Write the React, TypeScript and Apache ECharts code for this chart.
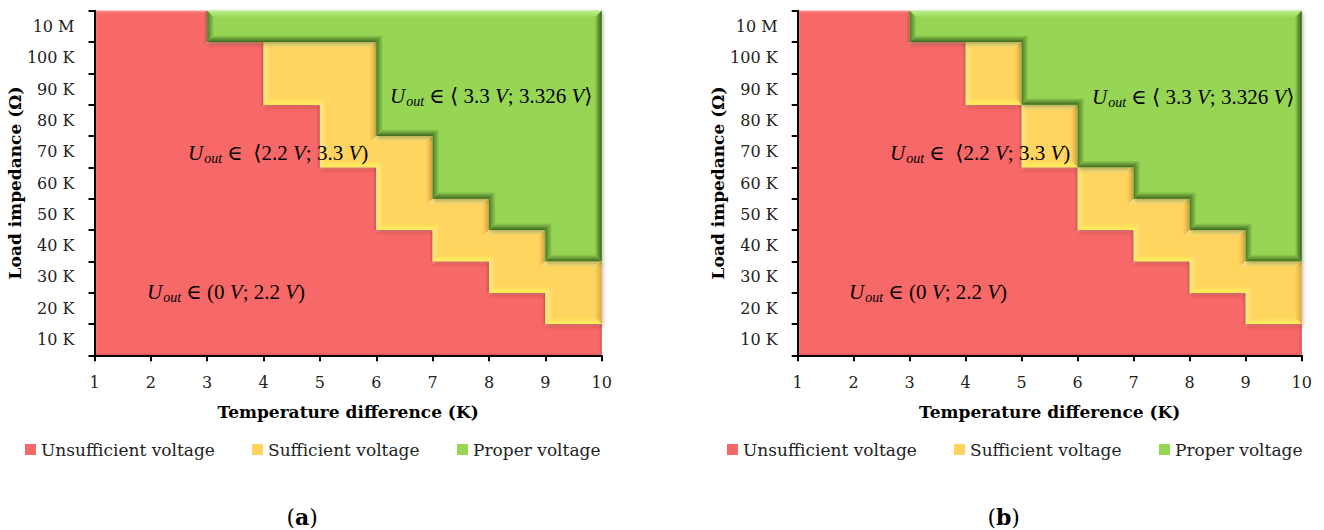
import React, { useEffect, useRef } from "react";
import * as echarts from "echarts";

// ---------- data ----------
const temperatureTicks = [1, 2, 3, 4, 5, 6, 7, 8, 9, 10];
const impedanceLabels = ["10 K", "20 K", "30 K", "40 K", "50 K", "60 K", "70 K", "80 K", "90 K", "100 K", "10 M"];
const seriesNames = ["Unsufficient voltage", "Sufficient voltage", "Proper voltage"];
// number of impedance rows occupied in each temperature interval [1-2] ... [9-10]
const unsufficientA = [11, 11, 10, 8, 6, 4, 3, 2, 1];
const sufficientA = [0, 0, 0, 2, 4, 3, 2, 2, 2];
const properA = [0, 0, 1, 1, 1, 4, 6, 7, 8];
const unsufficientB = [11, 11, 10, 8, 6, 4, 3, 2, 1];
const sufficientB = [0, 0, 0, 2, 2, 2, 2, 2, 2];
const properB = [0, 0, 1, 1, 3, 5, 6, 7, 8];
const panelLabels = ["a", "b"];

// ---------- styles ----------
const COLORS = ["#F76868", "#FFD45E", "#97D655"];
const BEVEL = [
  { top: "#FB9494", left: "#F97C7C", bottom: "#E25A5A", right: "#DC5656" },
  { top: "#FFE88E", left: "#FFEA88", bottom: "#FFF05C", right: "#D8AC42" },
  { top: "#BCEF8C", left: "#4C7B28", bottom: "#3E681E", right: "#385E1B" },
];
const BEVEL_W = [3, 7, 7];
const SHADOW = [null, "rgba(120,40,20,0.4)", "rgba(30,60,10,0.4)"];
const SERIF = "'DejaVu Serif', 'Liberation Serif', serif";
const MATH = "'Liberation Serif', 'DejaVu Serif', serif";

type Cell = [number, number, number, number];

function stackCells(layers: number[][], layer: number): Cell[] {
  const cells: Cell[] = [];
  for (let i = 0; i < layers[layer].length; i++) {
    let b = 0;
    for (let k = 0; k < layer; k++) b += layers[k][i];
    const t = b + layers[layer][i];
    cells.push([temperatureTicks[i], temperatureTicks[i + 1], b, t]);
  }
  return cells;
}

// split non-empty cells into groups whose neighbouring columns overlap
function components(cells: Cell[]): Cell[][] {
  const groups: Cell[][] = [];
  let cur: Cell[] = [];
  cells.forEach((c) => {
    if (c[3] <= c[2]) {
      if (cur.length) groups.push(cur);
      cur = [];
      return;
    }
    if (cur.length) {
      const p = cur[cur.length - 1];
      const overlap = Math.min(p[3], c[3]) - Math.max(p[2], c[2]);
      if (overlap <= 0) {
        groups.push(cur);
        cur = [];
      }
    }
    cur.push(c);
  });
  if (cur.length) groups.push(cur);
  return groups;
}

function cleanPoly(pts: number[][]): number[][] {
  let p = pts.slice();
  let changed = true;
  while (changed) {
    changed = false;
    const out: number[][] = [];
    for (let i = 0; i < p.length; i++) {
      const prev = out.length ? out[out.length - 1] : p[p.length - 1];
      if (Math.abs(prev[0] - p[i][0]) < 0.01 && Math.abs(prev[1] - p[i][1]) < 0.01) {
        changed = true;
        continue;
      }
      out.push(p[i]);
    }
    p = out;
    const out2: number[][] = [];
    for (let i = 0; i < p.length; i++) {
      const a = p[(i - 1 + p.length) % p.length];
      const c = p[(i + 1) % p.length];
      const v = p[i];
      const colX = Math.abs(a[0] - v[0]) < 0.01 && Math.abs(c[0] - v[0]) < 0.01;
      const colY = Math.abs(a[1] - v[1]) < 0.01 && Math.abs(c[1] - v[1]) < 0.01;
      if (colX || colY) {
        changed = true;
        continue;
      }
      out2.push(v);
    }
    p = out2;
  }
  return p;
}

function regionShapes(used: Cell[], layer: number, api: any): any[] {
  const raw: number[][] = [];
  used.forEach((c) => {
    raw.push(api.coord([c[0], c[3]]), api.coord([c[1], c[3]]));
  });
  for (let i = used.length - 1; i >= 0; i--) {
    const c = used[i];
    raw.push(api.coord([c[1], c[2]]), api.coord([c[0], c[2]]));
  }
  const pts = cleanPoly(raw);
  const n = pts.length;
  const normals: number[][] = [];
  for (let i = 0; i < n; i++) {
    const a = pts[i];
    const b = pts[(i + 1) % n];
    const dx = b[0] - a[0];
    const dy = b[1] - a[1];
    const len = Math.hypot(dx, dy) || 1;
    normals.push([-dy / len, dx / len]);
  }
  const bw = BEVEL_W[layer];
  const inset: number[][] = pts.map((v, i) => {
    const n1 = normals[(i - 1 + n) % n];
    const n2 = normals[i];
    return [v[0] + bw * (n1[0] + n2[0]), v[1] + bw * (n1[1] + n2[1])];
  });
  const base = COLORS[layer];
  const bev = BEVEL[layer];
  const shadow = SHADOW[layer];
  const out: any[] = [
    {
      type: "polygon",
      shape: { points: pts },
      style: shadow
        ? { fill: base, shadowBlur: 4, shadowColor: shadow, shadowOffsetX: 1, shadowOffsetY: 2 }
        : { fill: base },
    },
  ];
  for (let i = 0; i < n; i++) {
    const nv = normals[i];
    let grad: any;
    if (nv[1] > 0.5) grad = new echarts.graphic.LinearGradient(0, 0, 0, 1, [{ offset: 0, color: bev.top }, { offset: 1, color: base }]);
    else if (nv[1] < -0.5) grad = new echarts.graphic.LinearGradient(0, 0, 0, 1, [{ offset: 0, color: base }, { offset: 1, color: bev.bottom }]);
    else if (nv[0] > 0.5) grad = new echarts.graphic.LinearGradient(0, 0, 1, 0, [{ offset: 0, color: bev.left }, { offset: 1, color: base }]);
    else grad = new echarts.graphic.LinearGradient(0, 0, 1, 0, [{ offset: 0, color: base }, { offset: 1, color: bev.right }]);
    out.push({
      type: "polygon",
      shape: { points: [pts[i], pts[(i + 1) % n], inset[(i + 1) % n], inset[i]] },
      style: { fill: grad },
    });
  }
  return out;
}

function makeRenderItem(cells: Cell[], layer: number) {
  return (params: any, api: any) => {
    if (params.dataIndex !== 0) return null;
    const children: any[] = [];
    components(cells).forEach((g) => {
      children.push(...regionShapes(g, layer, api));
    });
    return { type: "group", children };
  };
}

const GRIDS = [
  { left: 94.5, top: 10.7, width: 507.2, height: 344.6 },
  { left: 797.7, top: 10.7, width: 504, height: 344.6 },
];

const mathRich = {
  i: { fontFamily: MATH, fontStyle: "italic", fontSize: 21, color: "#111", lineHeight: 26 },
  s: { fontFamily: MATH, fontStyle: "italic", fontSize: 14, color: "#111", lineHeight: 26, padding: [11, 0, 0, 1] },
  r: { fontFamily: MATH, fontSize: 21, color: "#111", lineHeight: 26 },
};
const ANNOTATIONS = [
  "{i|U}{s|out}{r| ∈ (0 }{i|V}{r|; 2.2 }{i|V}{r|)}",
  "{i|U}{s|out}{r| ∈  ⟨2.2 }{i|V}{r|; 3.3 }{i|V}{r|)}",
  "{i|U}{s|out}{r| ∈ ⟨ 3.3 }{i|V}{r|; 3.326 }{i|V}{r|⟩}",
];
const ANN_POS = [
  [[147, 292], [188, 153], [390, 96]],
  [[849, 292], [890, 153], [1092, 97]],
];
const LEGEND_LEFT = [
  [20, 247, 452],
  [722, 949, 1154],
];

export default function App() {
  const ref = useRef<HTMLDivElement>(null);
  useEffect(() => {
    if (!ref.current) return;
    const chart = echarts.init(ref.current, null, { renderer: "svg" });
    const panels = [
      [unsufficientA, sufficientA, properA],
      [unsufficientB, sufficientB, properB],
    ];
    const xAxis: any[] = [];
    const yAxis: any[] = [];
    const series: any[] = [];
    const legend: any[] = [];
    const graphic: any[] = [];
    const axisLine = { show: true, lineStyle: { color: "#000", width: 2 } };
    panels.forEach((layers, p) => {
      xAxis.push({
        gridIndex: p,
        type: "value",
        min: 1,
        max: 10,
        interval: 1,
        z: 10,
        axisLine,
        axisTick: { show: true, length: 6, lineStyle: { color: "#000", width: 2 } },
        splitLine: { show: false },
        axisLabel: { color: "#222", fontFamily: SERIF, fontSize: 16, margin: 19 },
        name: "Temperature difference (K)",
        nameLocation: "middle",
        nameGap: 48,
        nameTextStyle: { color: "#000", fontFamily: SERIF, fontSize: 17, fontWeight: "bold" },
      });
      yAxis.push({
        gridIndex: p,
        type: "category",
        data: impedanceLabels,
        boundaryGap: true,
        z: 10,
        axisLine,
        axisTick: { show: true, length: 6, lineStyle: { color: "#000", width: 2 } },
        axisLabel: { color: "#222", fontFamily: SERIF, fontSize: 16, margin: 20, interval: 0 },
        splitLine: { show: false },
        name: "Load impedance (Ω)",
        nameLocation: "middle",
        nameGap: 64,
        nameTextStyle: { color: "#000", fontFamily: SERIF, fontSize: 17, fontWeight: "bold" },
      });
      yAxis.push({ gridIndex: p, type: "value", min: 0, max: impedanceLabels.length, show: false });
      layers.forEach((_, layer) => {
        const cells = stackCells(layers, layer);
        series.push({
          type: "custom",
          name: seriesNames[layer],
          xAxisIndex: p,
          yAxisIndex: p * 2 + 1,
          data: cells,
          encode: { x: [0, 1], y: [2, 3] },
          itemStyle: { color: COLORS[layer] },
          renderItem: makeRenderItem(cells, layer),
          silent: true,
          z: 2 + layer,
        });
        legend.push({
          data: [seriesNames[layer]],
          left: LEGEND_LEFT[p][layer],
          top: 436,
          icon: "rect",
          itemWidth: 11,
          itemHeight: 11,
          selectedMode: false,
          textStyle: { color: "#222", fontFamily: SERIF, fontSize: 17 },
        });
      });
      ANNOTATIONS.forEach((txt, k) => {
        graphic.push({
          type: "text",
          x: ANN_POS[p][k][0],
          y: ANN_POS[p][k][1],
          z: 20,
          style: { text: txt, rich: mathRich, verticalAlign: "middle", align: "left" },
        });
      });
      graphic.push({
        type: "text",
        x: GRIDS[p].left + GRIDS[p].width / 2 - 46,
        y: 517,
        style: {
          text: "{p|(}{b|" + panelLabels[p] + "}{p|)}",
          verticalAlign: "middle",
          align: "center",
          rich: {
            p: { fontFamily: SERIF, fontSize: 22, color: "#111" },
            b: { fontFamily: SERIF, fontSize: 22, fontWeight: "bold", color: "#111" },
          },
        },
      });
    });
    chart.setOption({
      animation: false,
      backgroundColor: "#fff",
      grid: GRIDS,
      xAxis,
      yAxis,
      series,
      legend,
      graphic,
    });
    return () => chart.dispose();
  }, []);
  return <div ref={ref} style={{ position: "fixed", left: 0, top: 0, width: 1324, height: 530 }} />;
}
